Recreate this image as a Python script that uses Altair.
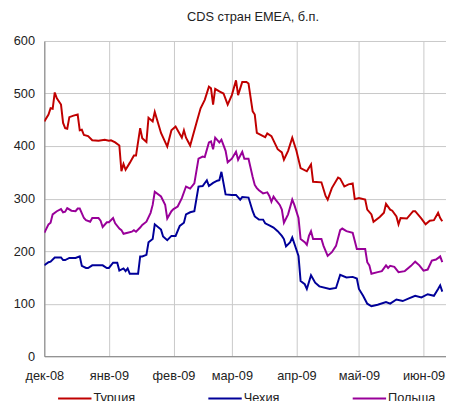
import altair as alt
import pandas as pd

# days since 2008-12-01 and CDS values (bp)
tur_days = [0, 2, 3, 4, 5, 6, 8, 9, 10, 11, 12, 14, 16, 17, 18, 19, 21, 23, 26, 29, 31, 32, 34, 36, 37, 38, 39, 41, 43, 44,
            46, 47, 49, 50, 52, 53, 56, 59, 61, 63, 66, 67, 68, 70, 73, 75, 77, 79, 80, 81, 82, 84, 86, 88, 90, 92, 93, 95,
            97, 98, 100, 101, 102, 105, 106, 107, 109, 112, 114, 115, 117, 119, 121, 123, 126, 128, 129, 133, 135, 136, 138,
            141, 142, 144, 146, 148, 149, 151, 154, 155, 157, 158, 161, 163, 164, 166, 167, 169, 170, 171, 174, 177, 178,
            181, 183, 185, 187, 189, 190, 191]
tur_vals = [447, 460, 472, 471, 502, 491, 479, 444, 434, 433, 455, 458, 460, 430, 431, 421, 419, 411, 410, 412, 410, 411,
            407, 401, 352, 366, 355, 368, 382, 382, 434, 415, 408, 454, 447, 465, 425, 399, 430, 437, 416, 430, 416, 401,
            444, 472, 488, 513, 510, 479, 509, 504, 500, 479, 497, 525, 497, 522, 522, 519, 466, 460, 425, 419, 417, 424,
            419, 394, 388, 374, 391, 416, 391, 358, 352, 365, 332, 331, 305, 298, 320, 340, 338, 323, 327, 329, 299, 301,
            298, 279, 270, 256, 265, 273, 290, 279, 277, 266, 251, 263, 262, 276, 276, 262, 251, 258, 259, 273, 263, 257]

cze_days = [0, 2, 3, 5, 8, 9, 10, 12, 15, 17, 18, 20, 21, 23, 28, 30, 31, 33, 35, 36, 38, 39, 40, 41, 45, 46, 47, 49, 50,
            52, 53, 56, 57, 59, 61, 63, 65, 67, 68, 70, 72, 74, 76, 78, 79, 81, 83, 84, 85, 87, 90, 92, 94, 95, 98, 100,
            101, 103, 105, 106, 108, 110, 112, 114, 115, 116, 118, 119, 122, 123, 125, 126, 128, 130, 132, 137, 140, 142,
            145, 148, 150, 151, 153, 155, 157, 160, 164, 166, 169, 172, 175, 178, 181, 184, 187, 189, 190, 191]
cze_vals = [173, 179, 180, 188, 188, 183, 183, 187, 187, 190, 172, 168, 168, 173, 173, 168, 168, 178, 178, 163, 167, 162,
            167, 157, 157, 190, 190, 193, 217, 223, 251, 241, 228, 221, 229, 229, 248, 254, 270, 274, 276, 323, 324, 335,
            324, 330, 334, 335, 351, 308, 307, 307, 298, 303, 302, 276, 266, 260, 260, 253, 249, 245, 238, 229, 223, 209,
            217, 226, 191, 143, 137, 128, 154, 140, 133, 128, 130, 155, 150, 151, 148, 128, 115, 100, 95, 98, 103, 100,
            108, 105, 110, 115, 112, 118, 115, 128, 135, 123]

pol_days = [0, 2, 3, 4, 6, 8, 9, 10, 11, 13, 15, 16, 17, 19, 20, 22, 23, 26, 27, 28, 30, 31, 33, 34, 36, 37, 38, 40, 42,
            43, 44, 46, 47, 49, 51, 52, 53, 56, 58, 59, 61, 62, 64, 66, 68, 70, 72, 74, 76, 77, 79, 80, 81, 82, 84, 85, 87,
            88, 90, 92, 93, 95, 96, 98, 100, 101, 102, 103, 105, 106, 107, 108, 109, 110, 111, 113, 114, 115, 117, 119,
            120, 122, 123, 125, 126, 127, 128, 129, 133, 134, 136, 138, 140, 142, 143, 145, 148, 150, 154, 155, 156, 157,
            160, 162, 164, 165, 166, 168, 170, 173, 176, 178, 180, 182, 184, 186, 188, 190, 191]
pol_vals = [235, 251, 254, 270, 276, 280, 274, 275, 282, 277, 276, 281, 281, 263, 259, 256, 263, 263, 258, 246, 255, 255,
            263, 253, 243, 240, 233, 235, 237, 240, 237, 245, 250, 256, 273, 288, 313, 304, 288, 262, 276, 280, 285, 301,
            323, 319, 329, 376, 380, 379, 407, 409, 394, 416, 407, 412, 391, 369, 376, 389, 374, 389, 376, 376, 341, 326,
            320, 316, 310, 311, 312, 305, 294, 304, 298, 288, 279, 254, 270, 298, 288, 263, 223, 217, 212, 229, 238, 223,
            223, 210, 191, 198, 210, 240, 243, 238, 235, 204, 204, 179, 173, 157, 160, 162, 173, 168, 172, 170, 160, 162,
            172, 180, 173, 163, 165, 182, 184, 190, 179]

series_names = ["Турция", "Чехия", "Польша"]
series_colors = ["#C00000", "#000099", "#990099"]
month_names = ["янв", "фев", "мар", "апр", "май", "июн", "июл", "авг", "сен", "окт", "ноя", "дек"]

start = pd.Timestamp("2008-12-01")
frames = []
for name, days, vals in zip(series_names, [tur_days, cze_days, pol_days], [tur_vals, cze_vals, pol_vals]):
    frames.append(pd.DataFrame({
        "date": [start + pd.Timedelta(days=d) for d in days],
        "value": vals,
        "series": name,
    }))
df = pd.concat(frames, ignore_index=True)
df["date"] = df["date"].dt.strftime("%Y-%m-%dT%H:%M:%S")

month_ticks = [alt.DateTime(year=2008, month=12, date=1)] + [alt.DateTime(year=2009, month=m, date=1) for m in range(1, 7)]
label_expr = "[" + ",".join("'" + m + "'" for m in month_names) + "][month(datum.value)] + '-' + timeFormat(datum.value, '%y')"

FONT = "Liberation Sans"

chart = alt.Chart(df).mark_line(strokeWidth=2, clip=True).encode(
    x=alt.X("date:T",
            scale=alt.Scale(domain=[alt.DateTime(year=2008, month=12, date=1),
                                    alt.DateTime(year=2009, month=6, date=11, hours=19)]),
            axis=alt.Axis(values=month_ticks, labelExpr=label_expr, title=None, ticks=False,
                          labelPadding=14, labelFontSize=13, labelFont=FONT, labelColor="#222",
                          domainColor="#808080", gridColor="#C8C8C8", labelFlush=False)),
    y=alt.Y("value:Q",
            scale=alt.Scale(domain=[0, 600], nice=False),
            axis=alt.Axis(values=[0, 100, 200, 300, 400, 500, 600], title=None, ticks=False,
                          labelPadding=10, labelFontSize=13, labelFont=FONT, labelColor="#222",
                          domainColor="#808080", gridColor="#C8C8C8")),
    color=alt.Color("series:N",
                    scale=alt.Scale(domain=series_names, range=series_colors),
                    sort=series_names,
                    legend=alt.Legend(orient="none", legendX=13, legendY=346, direction="horizontal",
                                      columns=3, columnPadding=70, title=None, padding=0,
                                      symbolType="stroke", symbolStrokeWidth=2, symbolSize=1156,
                                      labelFontSize=13, labelFont=FONT, labelColor="#222", labelOffset=1)),
    order=alt.Order("date:T"),
).properties(
    width=409,
    height=321,
    title=alt.Title("CDS стран EMEA, б.п.", fontSize=13, font=FONT, fontWeight="normal",
                    color="#222", anchor="middle", dx=8, offset=11),
    autosize=alt.AutoSizeParams(type="none"),
    padding={"left": 37, "top": 30, "right": 0, "bottom": 42},
).configure_view(stroke=None)

chart.save("out.html", embed_options={"renderer": "svg", "actions": False})
